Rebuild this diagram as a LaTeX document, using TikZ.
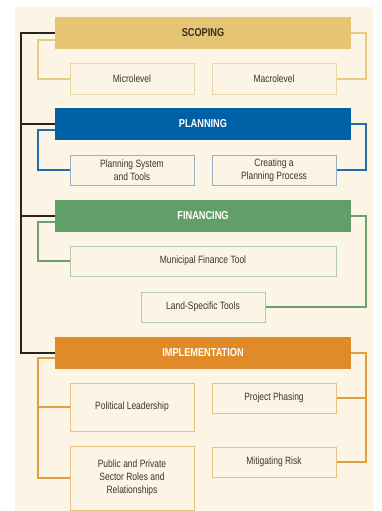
\documentclass[tikz,border=0pt]{standalone}
\usepackage{fontspec}
\setmainfont{Liberation Sans}[FakeStretch=0.8]
\definecolor{cream}{RGB}{252,245,230}
\definecolor{goldbar}{RGB}{229,196,115}
\definecolor{goldline}{RGB}{229,204,128}
\definecolor{goldbox}{RGB}{232,214,168}
\definecolor{bluebar}{RGB}{0,96,166}
\definecolor{blueline}{RGB}{36,108,170}
\definecolor{bluebox}{RGB}{156,176,196}
\definecolor{greenbar}{RGB}{98,158,104}
\definecolor{greenline}{RGB}{108,160,108}
\definecolor{greenbox}{RGB}{180,202,174}
\definecolor{orangebar}{RGB}{224,138,40}
\definecolor{orangeline}{RGB}{224,160,66}
\definecolor{orangebox}{RGB}{232,192,132}
\definecolor{txt}{RGB}{56,52,48}
\definecolor{scoptxt}{RGB}{58,46,30}
\definecolor{trunk}{RGB}{40,35,30}
\begin{document}
\begin{tikzpicture}[x=1pt,y=-1pt,
  bar/.style={rectangle,minimum width=296pt,minimum height=32pt,inner sep=0pt,
    font=\fontsize{11.5}{13}\selectfont\bfseries,text=white},
  sub/.style={rectangle,draw,fill=cream,line width=1pt,minimum width=124pt,minimum height=30pt,
    inner sep=0pt,align=center,text=txt,font=\fontsize{10.6}{13}\selectfont},
  trunkline/.style={draw=trunk,line width=1.7pt},
  branch/.style={line width=1.5pt}]
\useasboundingbox (0,0) rectangle (382,511);
\fill[cream] (15,7) rectangle (373,511);
\coordinate (bx) at (21,0);
\coordinate (L) at (38,0);
\coordinate (R) at (366,0);

% bars
\node[bar,fill=goldbar,text=scoptxt] (scop) at (203,33) {SCOPING};
\node[bar,fill=bluebar] (plan) at (203,124) {PLANNING};
\node[bar,fill=greenbar] (fin) at (203,216) {FINANCING};
\node[bar,fill=orangebar] (impl) at (203,353) {IMPLEMENTATION};

% sub boxes
\node[sub,draw=goldbox] (micro) at (132,79) {Microlevel};
\node[sub,draw=goldbox] (macro) at (274,79) {Macrolevel};
\node[sub,draw=bluebox] (psys) at (132,170) {Planning System\\and Tools};
\node[sub,draw=bluebox] (cpp) at (274,170) {Creating a\\Planning Process};
\node[sub,draw=greenbox,minimum width=266pt] (mft) at (203,261) {Municipal Finance Tool};
\node[sub,draw=greenbox] (lst) at (203,307) {Land-Specific Tools};
\node[sub,draw=orangebox,minimum height=48pt] (pol) at (132,407) {Political Leadership};
\node[sub,draw=orangebox,minimum height=64pt] (pub) at (132,478) {Public and Private\\Sector Roles and\\Relationships};
\node[sub,draw=orangebox] (pph) at (274,398) {Project Phasing};
\node[sub,draw=orangebox] (mit) at (274,462) {Mitigating Risk};

% trunk
\draw[trunkline] (scop.west) -- (scop.west -| bx) -- (impl.west -| bx) -- (impl.west);
\draw[trunkline] (plan.west -| bx) -- (plan.west);
\draw[trunkline] (fin.west -| bx) -- (fin.west);

% scoping branches
\draw[branch,draw=goldline] ([yshift=-7pt]scop.west) -- ([yshift=-7pt]scop.west -| L) |- (micro.west);
\draw[branch,draw=goldline] (scop.east) -- (scop.east -| R) |- (macro.east);
% planning branches
\draw[branch,draw=blueline] ([yshift=-6pt]plan.west) -- ([yshift=-6pt]plan.west -| L) |- (psys.west);
\draw[branch,draw=blueline] (plan.east) -- (plan.east -| R) |- (cpp.east);
% financing branches
\draw[branch,draw=greenline] ([yshift=-6pt]fin.west) -- ([yshift=-6pt]fin.west -| L) |- (mft.west);
\draw[branch,draw=greenline] (fin.east) -- (fin.east -| R) |- (lst.east);
% implementation branches
\draw[branch,draw=orangeline] ([yshift=-5pt]impl.west) -- ([yshift=-5pt]impl.west -| L) |- (pub.west);
\draw[branch,draw=orangeline] (pol.west) -- (pol.west -| L);
\draw[branch,draw=orangeline] (impl.east) -- (impl.east -| R) |- (mit.east);
\draw[branch,draw=orangeline] (pph.east) -- (pph.east -| R);
\end{tikzpicture}
\end{document}
